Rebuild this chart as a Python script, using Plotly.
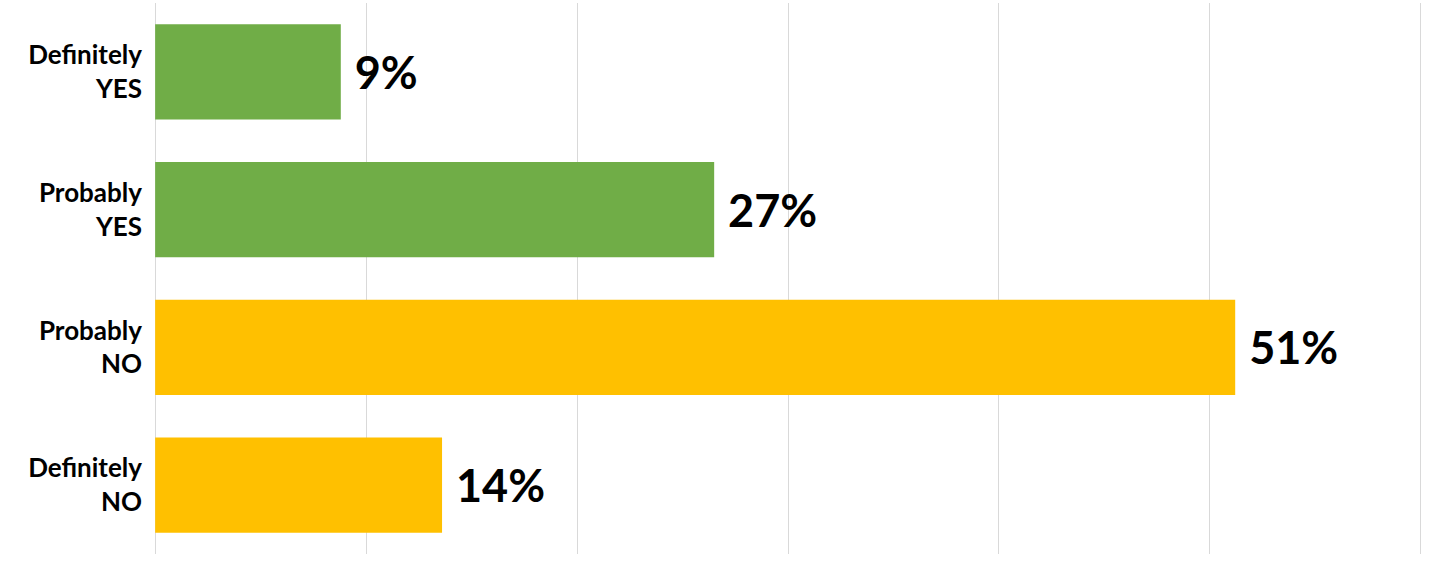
import plotly.graph_objects as go

categories = ["Definitely<br>YES", "Probably<br>YES", "Probably<br>NO", "Definitely<br>NO"]
values = [8.8, 26.5, 51.2, 13.6]
labels = ["9%", "27%", "51%", "14%"]
colors = ["#70AD47", "#70AD47", "#FFC000", "#FFC000"]

fig = go.Figure(go.Bar(
    x=values, y=categories, orientation="h",
    marker=dict(color=colors, line=dict(width=0)),
    width=0.69,
    text=labels, texttemplate="&nbsp;%{text}", textposition="outside",
    textfont=dict(family="Lato", size=45, color="#000000", weight="bold"),
    constraintext="none", cliponaxis=False,
    hoverinfo="skip",
))

fig.update_layout(
    width=1435, height=563,
    margin=dict(l=152, r=11, t=3, b=9),
    paper_bgcolor="white", plot_bgcolor="white",
    showlegend=False,
    xaxis=dict(range=[-0.15, 60.15], tickvals=[0, 10, 20, 30, 40, 50, 60],
               showgrid=True, gridcolor="#D9D9D9", gridwidth=1,
               showticklabels=False, zeroline=False, showline=False),
    yaxis=dict(autorange="reversed", showgrid=False, zeroline=False, showline=False,
               tickfont=dict(family="Lato", size=26, color="#000000", weight="bold"),
               ticklabelstandoff=9),
)

fig.write_html("out.html", config={"displayModeBar": False},
               post_script="document.body.style.margin='0';document.body.style.overflow='hidden';")
